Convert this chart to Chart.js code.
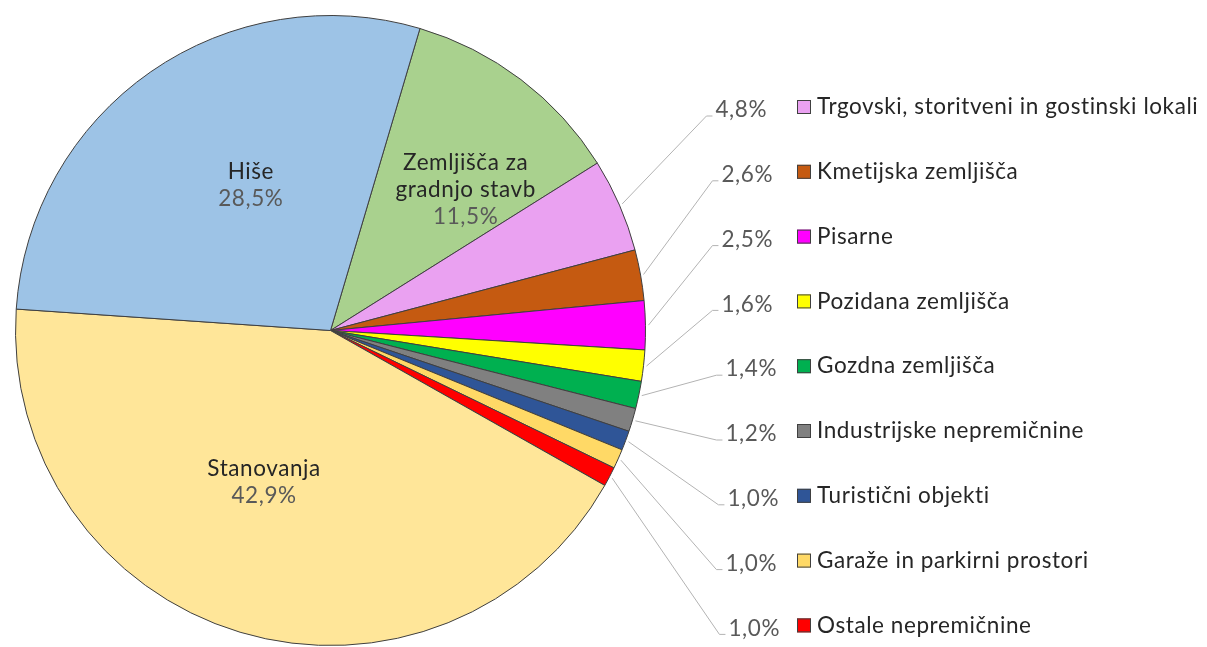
<!DOCTYPE html>
<html>
<head>
<meta charset="utf-8">
<script src="https://cdn.jsdelivr.net/npm/chart.js@4.4.1/dist/chart.umd.min.js"></script>
<style>
  html, body { margin: 0; padding: 0; background: #fff; }
  #wrap { width: 1207px; height: 647px; }
</style>
</head>
<body>
<div id="wrap"><canvas id="pieChart" width="1207" height="647"></canvas></div>
<script>
// -------------------------------
// DONNEES
// -------------------------------
const CATEGORIES = [
  "Zemljišča za gradnjo stavb",
  "Trgovski, storitveni in gostinski lokali",
  "Kmetijska zemljišča",
  "Pisarne",
  "Pozidana zemljišča",
  "Gozdna zemljišča",
  "Industrijske nepremičnine",
  "Turistični objekti",
  "Garaže in parkirni prostori",
  "Ostale nepremičnine",
  "Stanovanja",
  "Hiše"
];
const SHARES = [11.5, 4.8, 2.6, 2.5, 1.6, 1.4, 1.2, 1.0, 1.0, 1.0, 42.9, 28.5];
const COLORS = [
  "#a9d18e", "#eaa1f1", "#c55a11", "#ff00ff", "#ffff00", "#00b050",
  "#808080", "#2f5597", "#ffd966", "#ff0000", "#ffe699", "#9dc3e6"
];

// slices labelled inside the pie (index -> text lines)
const INSIDE_LINES = { 0: ["Zemljišča za", "gradnjo stavb"], 10: ["Stanovanja"], 11: ["Hiše"] };
// slices labelled outside with a leader line + legend entry
const OUTSIDE = [1, 2, 3, 4, 5, 6, 7, 8, 9];

// mise en page (pas des données)
const INSIDE_LAYOUT = { 0: { dAng: 6.6, frac: 0.62 }, 10: { dAng: 7, frac: 0.525 }, 11: { dAng: 6, frac: 0.525 } };
const PCT_RIGHT = [767, 773, 773, 773, 777, 777, 779, 777, 780];
const ROW_Y0 = 107, ROW_STEP = 64.8;
const FONT_SIZE = 22.5;
const FONT = `${FONT_SIZE}px Lato, 'Noto Sans', sans-serif`;

const fmtPct = v => v.toFixed(1).replace(".", ",") + "%";

// -------------------------------
// ETIQUETTES + LEGENDE (plugin)
// -------------------------------
const labelsPlugin = {
  id: "pieLabels",
  afterDatasetsDraw(chart) {
    const ctx = chart.ctx;
    const arcs = chart.getDatasetMeta(0).data;

    ctx.save();
    ctx.font = FONT;
    // espacement des lettres pour se rapprocher de Calibri (légende la plus longue ~381px)
    const longest = CATEGORIES[1];
    const spacing = Math.max(0, (381 - ctx.measureText(longest).width) / (longest.length - 1));
    ctx.letterSpacing = spacing.toFixed(2) + "px";
    ctx.textBaseline = "middle";
    const lineH = FONT_SIZE * 1.2;

    // étiquettes intérieures
    Object.keys(INSIDE_LINES).forEach(k => {
      const i = Number(k);
      const a = arcs[i].getProps(["x", "y", "startAngle", "endAngle", "outerRadius"], true);
      const lay = INSIDE_LAYOUT[i];
      const mid = (a.startAngle + a.endAngle) / 2 + lay.dAng * Math.PI / 180;
      const cx = a.x + Math.cos(mid) * a.outerRadius * lay.frac;
      const cy = a.y + Math.sin(mid) * a.outerRadius * lay.frac;
      const lines = INSIDE_LINES[i].concat([fmtPct(SHARES[i])]);
      const top = cy - (lines.length - 1) * lineH / 2;
      ctx.textAlign = "center";
      lines.forEach((t, j) => {
        ctx.fillStyle = j === lines.length - 1 ? "#595959" : "#262626";
        ctx.fillText(t, cx, top + j * lineH);
      });
    });

    // étiquettes extérieures + lignes de rappel + légende
    OUTSIDE.forEach((i, n) => {
      const a = arcs[i].getProps(["x", "y", "startAngle", "endAngle", "outerRadius"], true);
      const mid = (a.startAngle + a.endAngle) / 2;
      const rowY = ROW_Y0 + n * ROW_STEP;
      const txt = fmtPct(SHARES[i]);
      const right = PCT_RIGHT[n];
      const left = right - ctx.measureText(txt).width;
      const ly = rowY + 3;

      // ligne de rappel
      ctx.strokeStyle = "#b3b3b3";
      ctx.lineWidth = 1;
      ctx.beginPath();
      ctx.moveTo(a.x + Math.cos(mid) * (a.outerRadius + 3), a.y + Math.sin(mid) * (a.outerRadius + 3));
      ctx.lineTo(left - 9, ly + 6);
      ctx.lineTo(left - 3, ly + 6);
      ctx.stroke();

      ctx.textAlign = "right";
      ctx.fillStyle = "#595959";
      ctx.fillText(txt, right, ly);

      // légende
      ctx.fillStyle = COLORS[i];
      ctx.fillRect(797, rowY - 7, 14, 14);
      ctx.strokeStyle = "#404040";
      ctx.strokeRect(797.5, rowY - 6.5, 13, 13);
      ctx.textAlign = "left";
      ctx.fillStyle = "#262626";
      ctx.fillText(CATEGORIES[i], 817, rowY);
    });
    ctx.restore();
  }
};

// -------------------------------
// GRAPHIQUE
// -------------------------------
const ctx = document.getElementById("pieChart").getContext("2d");
new Chart(ctx, {
  type: "pie",
  data: {
    labels: CATEGORIES,
    datasets: [{
      data: SHARES,
      backgroundColor: COLORS,
      borderColor: "#3f3f3f",
      borderWidth: 1,
      hoverOffset: 0
    }]
  },
  options: {
    responsive: false,
    animation: false,
    rotation: 16.5,
    layout: { padding: { left: 15, top: 14, right: 561, bottom: 0 } },
    plugins: {
      legend: { display: false },
      tooltip: { enabled: false }
    }
  },
  plugins: [labelsPlugin]
});
</script>
</body>
</html>
